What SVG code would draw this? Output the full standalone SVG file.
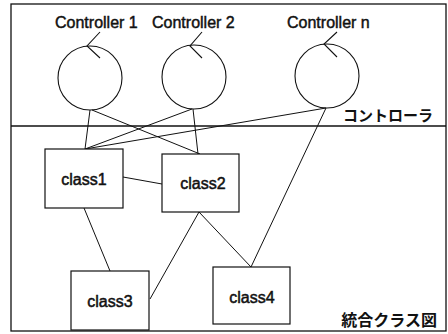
<svg xmlns="http://www.w3.org/2000/svg" width="448" height="334" viewBox="0 0 448 334">
  <style>
    .frame { fill: none; stroke: #111; stroke-width: 1.3; }
    .ctrl { fill: none; stroke: #111; stroke-width: 1.1; }
    .box { fill: #fff; stroke: #111; stroke-width: 1.2; }
    .edge { fill: none; stroke: #111; stroke-width: 1; }
    .lbl { font-family: "Liberation Sans", Arial, sans-serif; font-size: 16px; fill: #111; stroke: #111; stroke-width: 0.45; }
    .cls { font-family: "Liberation Sans", Arial, sans-serif; font-size: 16px; fill: #111; stroke: #111; stroke-width: 0.5; text-anchor: middle; }
    .jp { font-family: "Noto Sans CJK JP", "Noto Sans CJK SC", sans-serif; font-weight: bold; fill: #111; text-anchor: end; }
  </style>
  <rect width="448" height="334" fill="#fff"/>

  <!-- outer frame and the split between the controller layer and the class layer -->
  <rect class="frame" x="11" y="4" width="435" height="327"/>
  <line class="frame" x1="11" y1="126" x2="446" y2="126"/>
  <text class="jp" x="433" y="121" font-size="15">コントローラ</text>
  <text class="jp" x="437" y="326" font-size="16">統合クラス図</text>

  <!-- connectors -->
  <g id="connectors">
    <line class="edge" x1="90" y1="110" x2="85" y2="149"/>
    <line class="edge" x1="92" y1="110" x2="200" y2="154"/>
    <line class="edge" x1="192" y1="109" x2="85" y2="149"/>
    <line class="edge" x1="193" y1="109" x2="198" y2="154"/>
    <line class="edge" x1="326" y1="108" x2="85" y2="149"/>
    <line class="edge" x1="326" y1="108" x2="251" y2="267"/>
    <line class="edge" x1="123" y1="177" x2="162" y2="184"/>
    <line class="edge" x1="84" y1="208" x2="110" y2="271"/>
    <line class="edge" x1="199" y1="212" x2="150" y2="299"/>
    <line class="edge" x1="199" y1="212" x2="251" y2="267"/>
  </g>

  <!-- controllers: circle with a rotation tick at the top -->
  <g id="controller1">
    <text class="lbl" x="55" y="28">Controller 1</text>
    <circle class="ctrl" cx="90" cy="78" r="32"/>
    <polyline class="ctrl" points="100,32 87,46 100,58"/>
  </g>
  <g id="controller2">
    <text class="lbl" x="152" y="28">Controller 2</text>
    <circle class="ctrl" cx="194" cy="77" r="32"/>
    <polyline class="ctrl" points="202,32 190,46 202,58"/>
  </g>
  <g id="controllerN">
    <text class="lbl" x="287" y="28">Controller n</text>
    <circle class="ctrl" cx="327" cy="76" r="32"/>
    <polyline class="ctrl" points="337,32 324,44 337,57"/>
  </g>

  <!-- classes -->
  <g id="class1">
    <rect class="box" x="45" y="149" width="78" height="59"/>
    <text class="cls" x="84" y="185">class1</text>
  </g>
  <g id="class2">
    <rect class="box" x="162" y="154" width="77" height="58"/>
    <text class="cls" x="203" y="189">class2</text>
  </g>
  <g id="class3">
    <rect class="box" x="71" y="271" width="78" height="59"/>
    <text class="cls" x="110" y="307">class3</text>
  </g>
  <g id="class4">
    <rect class="box" x="213" y="267" width="77" height="57"/>
    <text class="cls" x="252" y="303">class4</text>
  </g>
</svg>
